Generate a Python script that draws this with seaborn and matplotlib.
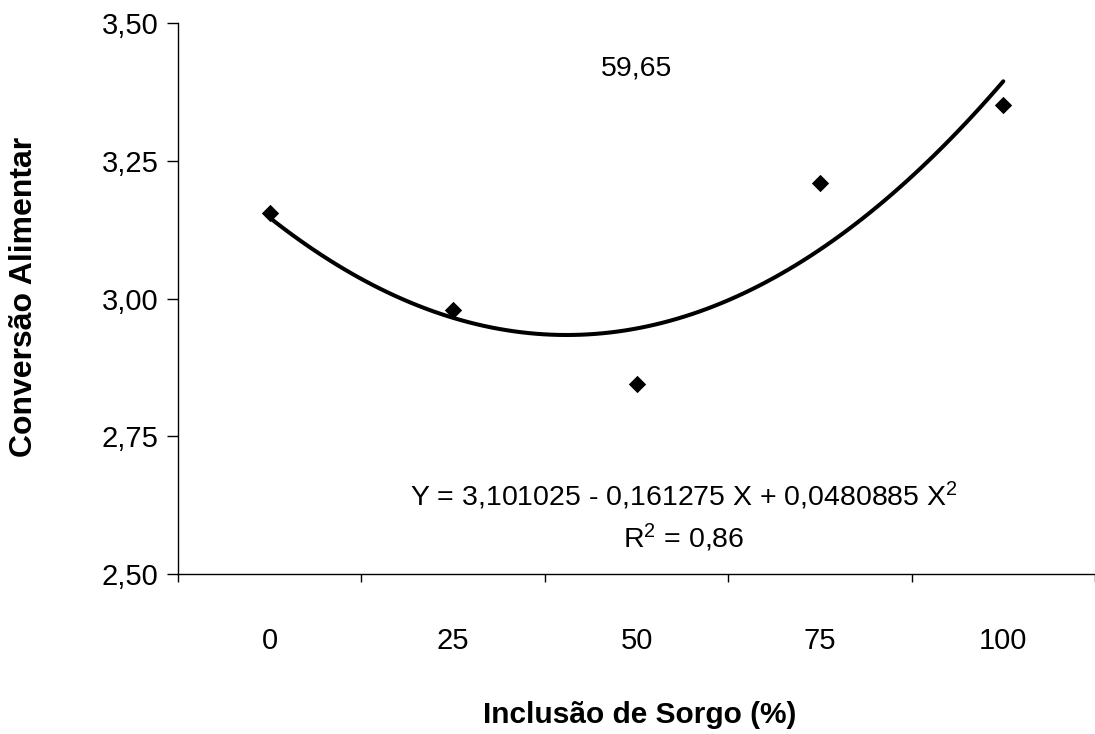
import matplotlib
matplotlib.use("Agg")
import matplotlib.pyplot as plt
from matplotlib.ticker import FixedLocator
import seaborn as sns
import pandas as pd

# Data
inclusao = [0, 25, 50, 75, 100]
conversao = [3.156, 2.980, 2.844, 3.209, 3.351]
x_tick_labels = ["0", "25", "50", "75", "100"]
y_ticks = [2.50, 2.75, 3.00, 3.25, 3.50]
y_tick_labels = ["2,50", "2,75", "3,00", "3,25", "3,50"]
top_label = "59,65"
equation = r"Y = 3,101025 - 0,161275 X + 0,0480885 X$^2$"
r2_text = r"R$^2$ = 0,86"
x_label = "Inclusão de Sorgo (%)"
y_label = "Conversão Alimentar"

df = pd.DataFrame({"Inclusao": inclusao, "Conversao": conversao})

sns.set_theme(style="white")
plt.rcParams["font.family"] = ["Liberation Sans", "DejaVu Sans"]
plt.rcParams["mathtext.fontset"] = "custom"
plt.rcParams["mathtext.rm"] = "Liberation Sans"
plt.rcParams["mathtext.it"] = "Liberation Sans"
plt.rcParams["mathtext.bf"] = "Liberation Sans:bold"
plt.rcParams["text.color"] = "black"
plt.rcParams["axes.labelcolor"] = "black"
plt.rcParams["xtick.color"] = "black"
plt.rcParams["ytick.color"] = "black"

fig = plt.figure(figsize=(10.95, 7.34), dpi=100)
ax = fig.add_axes([178 / 1095, 1 - 574 / 734, 917 / 1095, 551 / 734])

sns.regplot(
    data=df, x="Inclusao", y="Conversao", order=2, ci=None, ax=ax,
    marker="D", color="black",
    scatter_kws=dict(s=78, linewidths=0, zorder=3, alpha=1),
    line_kws=dict(linewidth=2.9, zorder=2),
)

ax.set_xlim(-12.5, 112.5)
ax.set_ylim(2.50, 3.50)

for s in ["top", "right"]:
    ax.spines[s].set_visible(False)
for s in ["left", "bottom"]:
    ax.spines[s].set_color("black")
    ax.spines[s].set_linewidth(1.0)

ax.set_xticks(inclusao)
ax.set_xticklabels(x_tick_labels, fontsize=21)
ax.xaxis.set_minor_locator(FixedLocator([-12.5, 12.5, 37.5, 62.5, 87.5, 112.5]))
ax.tick_params(axis="x", which="major", length=0, pad=38)
ax.tick_params(axis="x", which="minor", length=6, width=1, direction="out", color="black", bottom=True)

ax.set_yticks(y_ticks)
ax.set_yticklabels(y_tick_labels, fontsize=21)
ax.tick_params(axis="y", which="major", length=8, width=1, direction="out", color="black", left=True, pad=6)

ax.set_xlabel(x_label, fontsize=21.5, fontweight="bold")
ax.set_ylabel(y_label, fontsize=23, fontweight="bold")
ax.xaxis.set_label_coords(0.504, -0.256)
ax.xaxis.label.set_va("center")
ax.yaxis.set_label_coords(-0.168, 0.503)
ax.yaxis.label.set_va("center")

ax.text(50, 3.418, top_label, fontsize=20.5, ha="center", va="center")
ax.text(56.5, 2.642, equation, fontsize=20.5, ha="center", va="center")
ax.text(56.5, 2.565, r2_text, fontsize=20.5, ha="center", va="center")

fig.savefig("out.png", dpi=100)
